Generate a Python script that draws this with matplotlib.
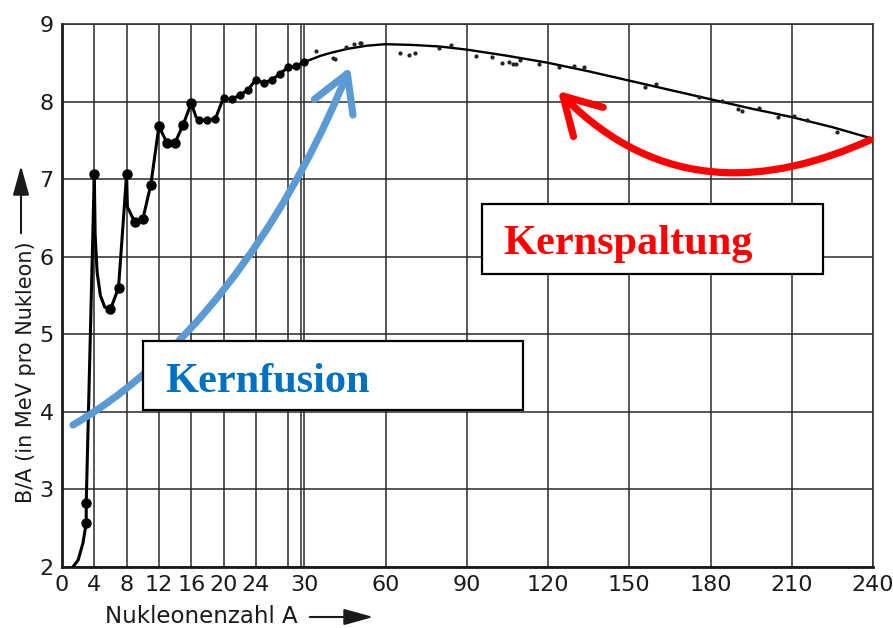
import numpy as np
import matplotlib
matplotlib.use("Agg")
import matplotlib.pyplot as plt
from matplotlib.path import Path
from matplotlib.patches import FancyArrowPatch, Rectangle

# ---------------- data ----------------
curve_A = [1.35, 2.0, 2.6, 3.0, 3.0, 4.0, 4.1, 4.35, 4.75, 5.3, 6.0, 7.0, 8.0, 8.1, 9.0,
           10.0, 11.0, 12.0, 13.0, 14.0, 15.0, 16.0, 16.6, 17.0, 18.0, 19.0, 20.0,
           21.0, 22.0, 23.0, 24.0, 25.0, 26.0, 27.0, 28.0, 29.0, 30.0]
curve_BA = [2.0, 2.09, 2.31, 2.57, 2.83, 7.07, 6.30, 5.80, 5.50, 5.35, 5.32, 5.60, 7.06, 6.64, 6.45,
            6.48, 6.93, 7.68, 7.47, 7.47, 7.70, 7.98, 7.80, 7.76, 7.76, 7.78, 8.05,
            8.03, 8.08, 8.15, 8.28, 8.24, 8.28, 8.36, 8.44, 8.46, 8.51]

heavy_A = [30, 36, 40, 46, 53, 60, 70, 80, 90, 105, 120, 135, 150, 165, 180, 195, 210, 225, 240]
heavy_BA = [8.51, 8.59, 8.63, 8.68, 8.72, 8.74, 8.73, 8.71, 8.67, 8.59, 8.50, 8.39, 8.27,
            8.15, 8.03, 7.91, 7.80, 7.67, 7.52]

big_dot_A = [3, 3, 4, 6, 7, 8, 9, 10, 11, 12, 13, 14, 15, 16]
big_dot_BA = [2.57, 2.83, 7.07, 5.33, 5.60, 7.06, 6.45, 6.48, 6.93, 7.68, 7.47, 7.47, 7.70, 7.98]

mid_dot_A = [17, 18, 19, 20, 21, 22, 23, 24, 25, 26, 27, 28, 29, 30]
mid_dot_BA = [7.76, 7.76, 7.78, 8.05, 8.03, 8.08, 8.15, 8.28, 8.24, 8.28, 8.36, 8.44, 8.46, 8.51]

small_dot_A = [34.4, 40.7, 41.5, 45.5, 48.5, 50.4, 51, 65.5, 68.5, 71, 79.6, 84, 93.3, 99.3,
               103, 105.6, 107, 108, 109.6, 116.7, 124, 129.6, 133.3, 155.9, 160, 175.9,
               184.4, 190, 191.8, 197.8, 205, 210.7, 215.5, 226.6]
small_dot_BA = [8.65, 8.56, 8.55, 8.70, 8.74, 8.75, 8.75, 8.63, 8.60, 8.63, 8.69, 8.73, 8.59, 8.57,
                8.50, 8.51, 8.48, 8.48, 8.54, 8.48, 8.45, 8.46, 8.45, 8.19, 8.23, 8.06,
                8.01, 7.90, 7.88, 7.92, 7.80, 7.81, 7.76, 7.61]

x_grid = [0, 4, 8, 12, 16, 20, 24, 28, 30, 60, 90, 120, 150, 180, 210, 240]
x_labels = ["0", "4", "8", "12", "16", "20", "24", "", "30", "60", "90", "120",
            "150", "180", "210", "240"]
y_ticks = [2, 3, 4, 5, 6, 7, 8, 9]

xlabel = "Nukleonenzahl A"
ylabel = "B/A (in MeV pro Nukleon)"
fusion_label = "Kernfusion"
fission_label = "Kernspaltung"

# ---------------- figure ----------------
W, H = 893, 628
fig = plt.figure(figsize=(W / 100, H / 100), dpi=100)
fig.patch.set_facecolor("white")


def fx(x):
    return x / W


def fy(y):
    return 1 - y / H


ax = fig.add_axes([fx(62), fy(567), (873 - 62) / W, (567 - 24) / H])


def fwd(a):
    a = np.asarray(a, dtype=float)
    return np.where(a <= 30, a * 8.08, 30 * 8.08 + (a - 30) * 2.71)


def inv(p):
    p = np.asarray(p, dtype=float)
    return np.where(p <= 242.4, p / 8.08, 30 + (p - 242.4) / 2.71)


ax.set_xscale("function", functions=(fwd, inv))
ax.set_xlim(0, 240)
ax.set_ylim(2, 9)

ink = "#1a1a1a"
ax.set_xticks(x_grid)
ax.set_xticklabels(x_labels)
ax.set_yticks(y_ticks)
ax.tick_params(length=0, labelsize=16, colors=ink, pad=6)
ax.grid(True, color="#2a2a2a", lw=1.1)
ax.axvline(29.65, color="#2a2a2a", lw=1.1, zorder=0.5)
ax.set_axisbelow(True)
for s in ["left", "bottom"]:
    ax.spines[s].set_linewidth(2.0)
    ax.spines[s].set_color(ink)
for s in ["top", "right"]:
    ax.spines[s].set_linewidth(1.2)
    ax.spines[s].set_color("#333333")

# curve
ax.plot(curve_A, curve_BA, color="black", lw=2.2, solid_joinstyle="round", zorder=3)
ax.plot(heavy_A, heavy_BA, color="black", lw=1.7, zorder=3)
ax.plot(big_dot_A, big_dot_BA, "o", color="black", ms=6.5, zorder=4)
ax.plot(mid_dot_A, mid_dot_BA, "o", color="black", ms=5, zorder=4)
ax.plot(small_dot_A, small_dot_BA, "o", color="#222222", ms=2, zorder=4)

# axis labels
fig.text(fx(105), fy(623), xlabel, fontsize=16.5, color=ink, ha="left", va="baseline",
         family="DejaVu Sans")
fig.text(fx(32), fy(503), ylabel, fontsize=15, color=ink, ha="left", va="baseline",
         rotation=90, rotation_mode="anchor", family="DejaVu Sans")
fig.add_artist(FancyArrowPatch((fx(307), fy(617)), (fx(376), fy(617)),
                               transform=fig.transFigure,
                               arrowstyle="-|>,head_length=0.9,head_width=0.25",
                               mutation_scale=20, lw=1.5, color=ink))
fig.add_artist(FancyArrowPatch((fx(21), fy(236)), (fx(21), fy(163)),
                               transform=fig.transFigure,
                               arrowstyle="-|>,head_length=0.9,head_width=0.25",
                               mutation_scale=20, lw=1.5, color=ink))

# blue arrow (Kernfusion)
blue = "#5B9BD5"
bverts = [(73, 425), (210, 345), (300, 190), (350, 67)]
bpath = Path([(fx(x), fy(y)) for x, y in bverts],
             [Path.MOVETO, Path.CURVE4, Path.CURVE4, Path.CURVE4])
fig.add_artist(FancyArrowPatch(path=bpath, transform=fig.transFigure,
                               arrowstyle="->,head_length=1.3,head_width=0.75",
                               mutation_scale=20, lw=5.2, color=blue,
                               capstyle="round", joinstyle="round", zorder=5))

# red arrow (Kernspaltung)
red = "#FF0000"
rverts = [(870, 140), (770, 185), (660, 195), (558, 91)]
rpath = Path([(fx(x), fy(y)) for x, y in rverts],
             [Path.MOVETO, Path.CURVE4, Path.CURVE4, Path.CURVE4])
fig.add_artist(FancyArrowPatch(path=rpath, transform=fig.transFigure,
                               arrowstyle="->,head_length=1.3,head_width=0.75",
                               mutation_scale=20, lw=5.2, color=red,
                               capstyle="round", joinstyle="round", zorder=5))

# text boxes
def box(x0, y0, x1, y1):
    r = Rectangle((fx(x0), fy(y1)), (x1 - x0) / W, (y1 - y0) / H,
                  transform=fig.transFigure, facecolor="white", edgecolor="black",
                  lw=1.6, zorder=6)
    fig.add_artist(r)


box(143, 341, 523, 410)
fig.text(fx(165), fy(392), fusion_label, fontsize=30.5, fontweight="bold",
         family="Liberation Serif", color="#0070C0", ha="left", va="baseline", zorder=7)
box(482, 204, 823, 274)
fig.text(fx(503), fy(254), fission_label, fontsize=30.5, fontweight="bold",
         family="Liberation Serif", color=red, ha="left", va="baseline", zorder=7)

fig.savefig("out.png", dpi=100)
